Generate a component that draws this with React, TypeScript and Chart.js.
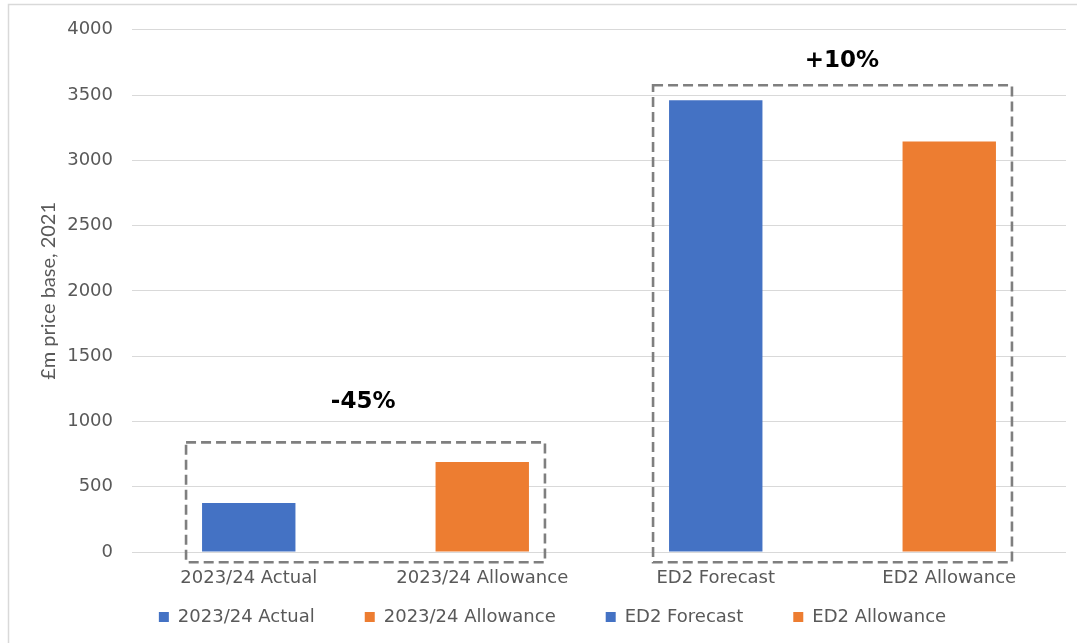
import React, { useEffect, useRef } from "react";
import { Chart, registerables } from "chart.js";

Chart.register(...registerables);

// Categories and one bar per series (each series sits in its own category)
const categories = ["2023/24 Actual", "2023/24 Allowance", "ED2 Forecast", "ED2 Allowance"];
const seriesNames = ["2023/24 Actual", "2023/24 Allowance", "ED2 Forecast", "ED2 Allowance"];
const seriesValues = [375, 690, 3460, 3145];
const seriesColors = ["#4472C4", "#ED7D31", "#4472C4", "#ED7D31"];

// Value axis
const yMin = 0;
const yMax = 4000;
const yStep = 500;
const yTitle = "£m price base, 2021";

// Comparison groups: first/last enclosed bar, upper edge of the dashed frame,
// and the percentage change written above it (placed by category index and value)
const groupFirst = [0, 2];
const groupLast = [1, 3];
const groupTop = [840, 3575];
const groupFloor = -78;
const groupLabels = ["-45%", "+10%"];
const groupLabelIndex = [0.49, 2.54];
const groupLabelValue = [1150, 3757];

const GREY_TEXT = "#595959";
const FONT = "'DejaVu Sans', Verdana, sans-serif";

const framePlugin = {
  id: "frameAndGroups",
  afterLayout(chart: any) {
    // let the category labels use the space down to the legend row
    const xs = chart.scales.x;
    xs.bottom = chart.height;
    xs.height = xs.bottom - xs.top;
  },
  beforeDraw(chart: any) {
    const ctx = chart.ctx;
    ctx.save();
    ctx.fillStyle = "#ffffff";
    ctx.fillRect(0, 0, chart.width, chart.height);
    ctx.strokeStyle = "#d9d9d9";
    ctx.lineWidth = 1.5;
    ctx.strokeRect(8.5, 4.5, chart.width + 20, chart.height + 20);
    ctx.restore();
  },
  afterDraw(chart: any) {
    const ctx = chart.ctx;
    const xs = chart.scales.x;
    const ys = chart.scales.y;
    ctx.save();
    groupFirst.forEach((first, g) => {
      const last = groupLast[g];
      const a = chart.getDatasetMeta(first).data[first];
      const b = chart.getDatasetMeta(last).data[last];
      const left = a.x - a.width / 2 - 16;
      const right = b.x + b.width / 2 + 16;
      const top = ys.getPixelForValue(groupTop[g]);
      const bottom = ys.getPixelForValue(groupFloor);
      ctx.setLineDash([10, 5]);
      ctx.lineWidth = 2.6;
      ctx.strokeStyle = "#7f7f7f";
      ctx.strokeRect(left, top, right - left, bottom - top);
      ctx.setLineDash([]);
      ctx.fillStyle = "#000000";
      ctx.font = `bold 23px ${FONT}`;
      ctx.textAlign = "center";
      ctx.textBaseline = "middle";
      ctx.fillText(
        groupLabels[g],
        xs.getPixelForValue(groupLabelIndex[g]),
        ys.getPixelForValue(groupLabelValue[g])
      );
    });
    ctx.restore();
  },
};

export default function App() {
  const canvasRef = useRef<HTMLCanvasElement | null>(null);

  useEffect(() => {
    if (!canvasRef.current) return;
    const datasets = seriesNames.map((name, i) => ({
      label: name,
      data: categories.map((_, j) => (j === i ? seriesValues[i] : null)),
      backgroundColor: seriesColors[i],
      borderWidth: 0,
      barPercentage: 0.4,
      categoryPercentage: 1,
    }));

    const tickFont = { family: FONT, size: 18 };

    const chart = new Chart(canvasRef.current, {
      type: "bar",
      data: { labels: categories, datasets },
      options: {
        responsive: false,
        animation: false,
        layout: { padding: { top: 26, left: 39, right: 11, bottom: 7 } },
        plugins: {
          legend: {
            position: "bottom",
            labels: {
              boxWidth: 10,
              boxHeight: 10,
              padding: 50,
              color: GREY_TEXT,
              font: tickFont,
            },
          },
          tooltip: { enabled: false },
        },
        scales: {
          x: {
            stacked: true,
            grid: { display: false, drawTicks: false },
            border: { display: false },
            ticks: { padding: 16, color: GREY_TEXT, font: tickFont },
            afterFit: (s: any) => {
              s.height = 6;
            },
          },
          y: {
            stacked: true,
            min: yMin,
            max: yMax,
            grid: { color: "#d9d9d9", lineWidth: 1, drawTicks: false },
            border: { display: false },
            ticks: {
              stepSize: yStep,
              padding: 19,
              color: GREY_TEXT,
              font: tickFont,
              callback: (v: any) => String(v),
            },
            title: {
              display: true,
              text: yTitle,
              color: GREY_TEXT,
              font: { family: "Lato, 'Open Sans', sans-serif", size: 20, lineHeight: 1 },
              padding: 0,
            },
            afterFit: (s: any) => {
              s.width = 93;
            },
          },
        },
      },
      plugins: [framePlugin],
    } as any);

    return () => chart.destroy();
  }, []);

  return (
    <div style={{ position: "fixed", left: 0, top: 0, width: 1077, height: 643 }}>
      <canvas ref={canvasRef} width={1077} height={643} style={{ display: "block" }} />
    </div>
  );
}
